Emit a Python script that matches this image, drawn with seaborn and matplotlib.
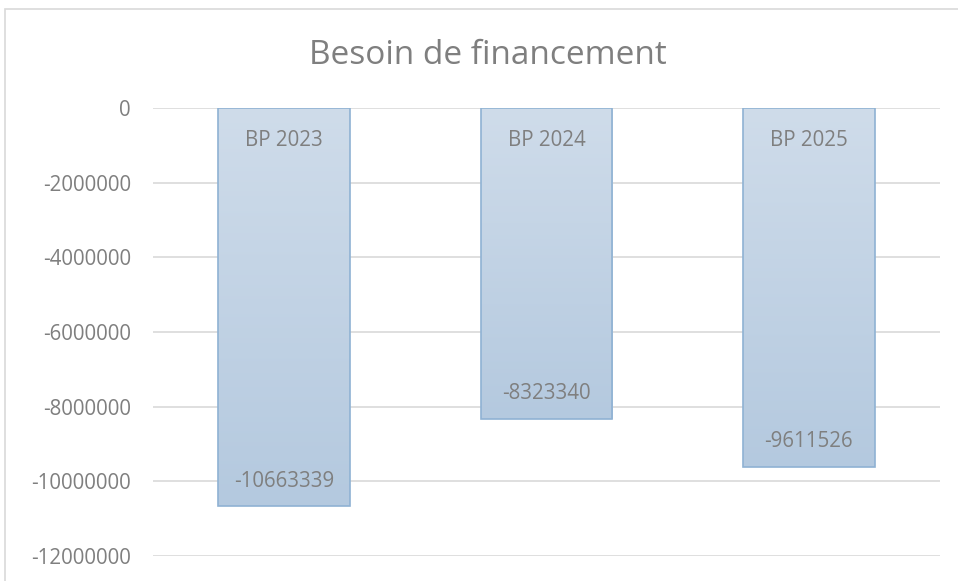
import numpy as np
import pandas as pd
import matplotlib
matplotlib.use("Agg")
import matplotlib.pyplot as plt
import seaborn as sns
from matplotlib.colors import LinearSegmentedColormap
from matplotlib.patches import Rectangle

categories = ["BP 2023", "BP 2024", "BP 2025"]
values = [-10663339, -8323340, -9611526]
yticks = [0, -2000000, -4000000, -6000000, -8000000, -10000000, -12000000]
title = "Besoin de financement"

sns.set_theme(style="white")
plt.rcParams['font.family'] = ['Open Sans', 'DejaVu Sans']

fig = plt.figure(figsize=(9.58, 5.81), dpi=100)
ax = fig.add_axes([153/958, 1-556/581, (940-153)/958, (556-108)/581])

df = pd.DataFrame({"cat": categories, "val": values})
sns.barplot(data=df, x="cat", y="val", ax=ax, width=0.503, color="#c5d5e6",
            edgecolor="#8fb2d3", linewidth=1.2, zorder=3)

ax.set_ylim(-12000000, 0)
ax.set_yticks(yticks)
ax.set_yticklabels([str(v) for v in yticks], color="#7f7f7f", fontsize=14.8)
ax.tick_params(axis="y", length=0, pad=16)
ax.tick_params(axis="x", length=0, labelbottom=False)
ax.set_xlabel("")
ax.set_ylabel("")
for s in ax.spines.values():
    s.set_visible(False)
ax.yaxis.grid(True, color="#d9d9d9", linewidth=1.2, zorder=0)
ax.set_axisbelow(True)

cmap = LinearSegmentedColormap.from_list("g", ["#b4c9df", "#cfdcea"])
grad = np.linspace(0, 1, 256).reshape(-1, 1)
for p, cat, v in zip(ax.patches, categories, values):
    x0 = p.get_x(); w = p.get_width()
    y0 = p.get_y(); h = p.get_height()
    ybot, ytop = min(y0, y0+h), max(y0, y0+h)
    im = ax.imshow(grad, cmap=cmap, aspect="auto", origin="lower",
                   extent=[x0, x0+w, ybot, ytop], zorder=2.5)
    im.set_clip_path(p)
    p.set_facecolor("none")
    xc = x0 + w/2
    ax.annotate(cat, (xc, 0), xytext=(0, -23.5), textcoords="offset points",
                ha="center", va="center", color="#7f7f7f", fontsize=14.8, zorder=5)
    ax.annotate(str(v), (xc, v), xytext=(0, 18), textcoords="offset points",
                ha="center", va="center", color="#7f7f7f", fontsize=14.8, zorder=5)

ax.set_xlim(-0.5, 2.5)
ax.set_ylim(-12000000, 0)

fig.text(488/958, 1-55/581, title, ha="center", va="center", fontsize=24, color="#7f7f7f")
fig.patches.append(Rectangle((5/958, -0.1), 1.2, 1-9/581+0.1, transform=fig.transFigure,
                             fill=False, edgecolor="#d9d9d9", linewidth=1.2))

fig.savefig("out.png", dpi=100)
